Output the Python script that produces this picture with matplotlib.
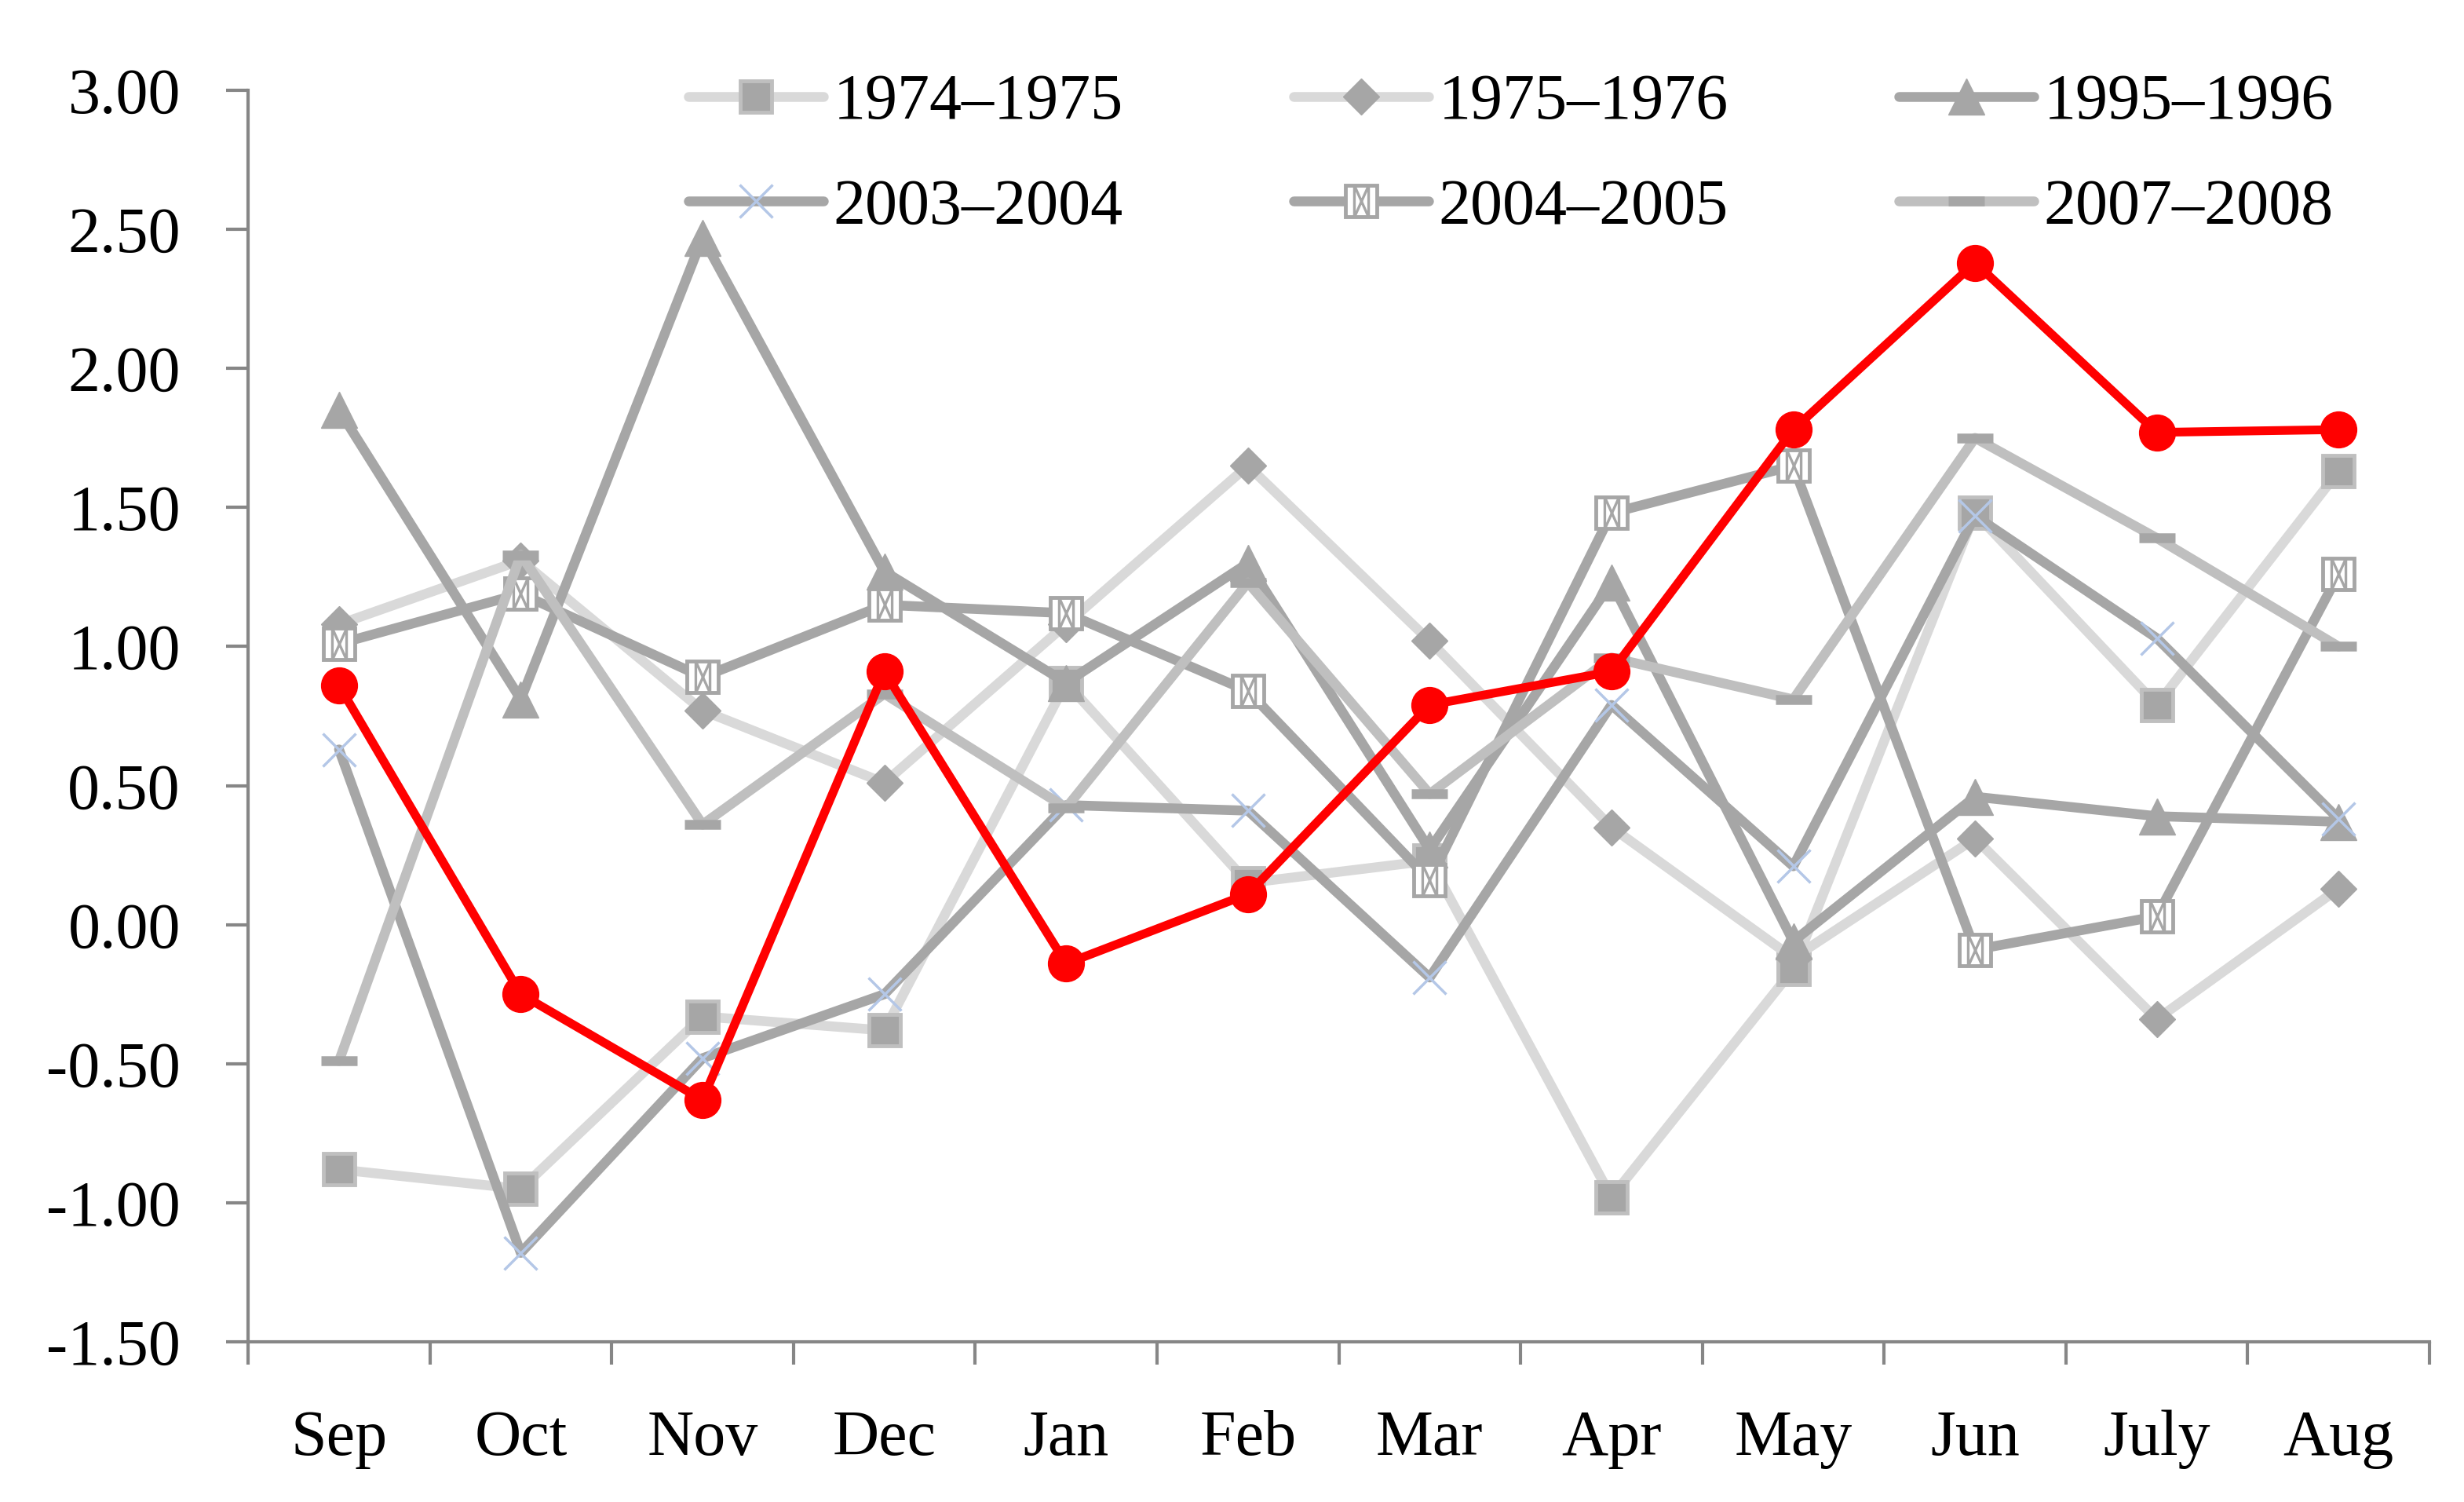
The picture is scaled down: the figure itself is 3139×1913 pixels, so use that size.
import matplotlib
matplotlib.use("Agg")
import matplotlib.pyplot as plt
from matplotlib.path import Path
from matplotlib.lines import Line2D
from matplotlib.legend_handler import HandlerTuple

plt.rcParams['font.family'] = ['Liberation Serif', 'DejaVu Serif']

months = ['Sep', 'Oct', 'Nov', 'Dec', 'Jan', 'Feb', 'Mar', 'Apr', 'May', 'Jun', 'July', 'Aug']

s1974 = [-0.88, -0.95, -0.33, -0.38, 0.87, 0.15, 0.23, -0.98, -0.16, 1.48, 0.79, 1.63]
s1975 = [1.08, 1.31, 0.77, 0.51, 1.08, 1.65, 1.02, 0.35, -0.12, 0.31, -0.34, 0.13]
s1995 = [1.85, 0.81, 2.47, 1.27, 0.87, 1.30, 0.27, 1.23, -0.06, 0.46, 0.39, 0.37]
s2003 = [0.63, -1.18, -0.48, -0.25, 0.43, 0.41, -0.19, 0.79, 0.21, 1.47, 1.03, 0.38]
s2004 = [1.01, 1.19, 0.89, 1.15, 1.12, 0.84, 0.16, 1.48, 1.65, -0.09, 0.03, 1.26]
s2007 = [-0.49, 1.33, 0.36, 0.83, 0.42, 1.23, 0.47, 0.96, 0.81, 1.75, 1.39, 1.00]
current = [0.86, -0.25, -0.63, 0.91, -0.14, 0.11, 0.79, 0.91, 1.78, 2.38, 1.77, 1.78]

yticks = [3.0, 2.5, 2.0, 1.5, 1.0, 0.5, 0.0, -0.5, -1.0, -1.5]

x = list(range(len(months)))

# hollow box with bars and a cross, like the Excel pattern marker
hatch_path = Path(
    [(-0.45, -1), (-0.45, 1), (0.45, -1), (0.45, 1),
     (-0.45, -1), (0.45, 1), (-0.45, 1), (0.45, -1)],
    [Path.MOVETO, Path.LINETO, Path.MOVETO, Path.LINETO,
     Path.MOVETO, Path.LINETO, Path.MOVETO, Path.LINETO])

fig = plt.figure(figsize=(31.39, 19.13), dpi=100)
ax = fig.add_axes([0.1007, 0.1066, 0.8853, 0.8333])

line_kw = dict(solid_capstyle='round', solid_joinstyle='round')

h1, = ax.plot(x, s1974, color='#d9d9d9', lw=9, marker='s', ms=29,
              markerfacecolor='#a6a6a6', markeredgecolor='#bfbfbf', markeredgewidth=3.5,
              **line_kw)
h2, = ax.plot(x, s1975, color='#d9d9d9', lw=9, marker='D', ms=23,
              markerfacecolor='#a6a6a6', markeredgecolor='#a6a6a6', markeredgewidth=1,
              **line_kw)
h3, = ax.plot(x, s1995, color='#a6a6a6', lw=9, marker='^', ms=33,
              markerfacecolor='#a6a6a6', markeredgecolor='#a6a6a6', markeredgewidth=1,
              **line_kw)
h4, = ax.plot(x, s2003, color='#a6a6a6', lw=9, marker='x', ms=30,
              markeredgecolor='#b4c7e7', markeredgewidth=2.5,
              **line_kw)
h5, = ax.plot(x, s2004, color='#a6a6a6', lw=9, marker='s', ms=29,
              markerfacecolor='white', markeredgecolor='#a6a6a6', markeredgewidth=3.5,
              **line_kw)
ax.plot(x, s2004, ls='none', marker=hatch_path, ms=29, markerfacecolor='none',
        markeredgecolor='#a6a6a6', markeredgewidth=2.4)
h6, = ax.plot(x, s2007, color='#bfbfbf', lw=9, marker='_', ms=33,
              markeredgecolor='#a6a6a6', markeredgewidth=9,
              **line_kw)
ax.plot(x, current, color='#ff0000', lw=8, marker='o', ms=33,
        markerfacecolor='#ff0000', markeredgecolor='#ff0000', **line_kw)

h5b = Line2D([], [], ls='none', marker=hatch_path, ms=29, markerfacecolor='none',
             markeredgecolor='#a6a6a6', markeredgewidth=2.4)

# matplotlib fills legend columns first, so order handles column by column
handles = [h1, h4, h2, (h5, h5b), h3, h6]
labels = ['1974\u20131975', '2003\u20132004', '1975\u20131976', '2004\u20132005',
          '1995\u20131996', '2007\u20132008']
fig.legend(handles, labels, ncol=3, loc='upper left',
           bbox_to_anchor=(0.2795, 0.951), frameon=False, fontsize=59,
           handlelength=2.1, handletextpad=0.15, columnspacing=2.65,
           labelspacing=0.71, borderpad=0, borderaxespad=0,
           handler_map={tuple: HandlerTuple(ndivide=1, pad=0)})

ax.set_xlim(-0.5, len(months) - 0.5)
ax.set_ylim(-1.5, 3.0)
ax.set_yticks(yticks)
ax.set_yticklabels([f"{v:.2f}" for v in yticks])
ax.set_xticks(x)
ax.set_xticklabels(months)
ax.set_xticks([i - 0.5 for i in range(len(months) + 1)], minor=True)

for side in ['top', 'right']:
    ax.spines[side].set_visible(False)
for side in ['left', 'bottom']:
    ax.spines[side].set_color('#868686')
    ax.spines[side].set_linewidth(3)

ax.tick_params(axis='y', direction='out', length=20, width=3, color='#868686',
               labelsize=59, pad=42)
ax.tick_params(axis='x', which='major', length=0, labelsize=59, pad=62)
ax.tick_params(axis='x', which='minor', direction='out', length=21, width=3,
               color='#868686')

fig.savefig('out.png', dpi=100)
